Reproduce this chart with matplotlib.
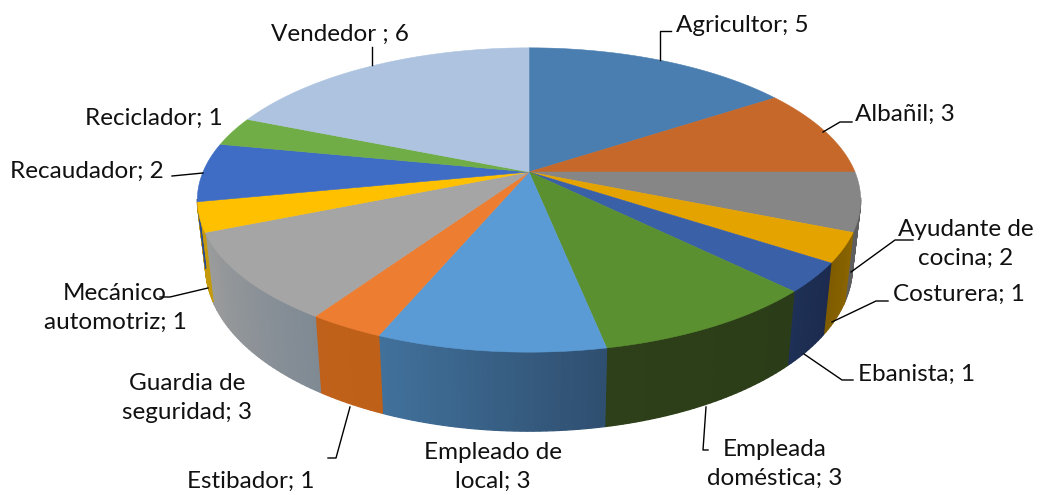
import numpy as np
import matplotlib
matplotlib.use("Agg")
import matplotlib.pyplot as plt
from matplotlib.colors import to_rgb
from matplotlib.patches import Polygon

# datos del grafico
oficios = ["Agricultor; 5", "Albañil; 3", "Ayudante de\ncocina; 2", "Costurera; 1", "Ebanista; 1",
           "Empleada\ndoméstica; 3", "Empleado de\nlocal; 3", "Estibador; 1", "Guardia de\nseguridad; 3",
           "Mecánico\nautomotriz; 1", "Recaudador; 2", "Reciclador; 1", "Vendedor ; 6"]
valores = [5, 3, 2, 1, 1, 3, 3, 1, 3, 1, 2, 1, 6]

# colores: cara superior, pared (izquierda, derecha)
color_top = ["#4a7eb0", "#c5682a", "#868686", "#e5a300", "#3a60a8", "#5b9030", "#5b9bd5",
             "#ed7d31", "#a5a5a5", "#ffc000", "#3f6cc4", "#70ad47", "#adc3e0"]
color_izq = ["#34587c", "#8a4a1e", "#5f5f5f", "#7f5c00", "#1f3056", "#2d4019", "#41719c",
             "#c0611b", "#9c9c9c", "#c49a0a", "#2f4d8a", "#4f7a32", "#7a8aa0"]
color_der = ["#34587c", "#8a4a1e", "#5a5a5a", "#8a6500", "#1b2a4e", "#2b3d18", "#2f4f6f",
             "#bf6018", "#7f8a94", "#c49a0a", "#2f4d8a", "#4f7a32", "#7a8aa0"]

# posicion de las etiquetas: x, y, alineacion
pos_texto = [(676, 26, "left"), (855, 114, "left"), (966, 244, "center"), (893, 294, "left"),
             (858, 374, "left"), (775, 464, "center"), (493, 467, "center"), (187, 481, "left"),
             (187, 398, "center"), (115, 308, "center"), (10, 171, "left"), (85, 118, "left"),
             (271, 34, "left")]
lineas = [[(660, 60), (660, 31), (671, 31)],
          [(823, 132), (840, 122), (852, 122)],
          [(851, 272), (895, 240), (913, 240)],
          [(832, 322), (876, 301), (888, 301)],
          [(804, 354), (842, 380), (853, 380)],
          [(706, 407), (703, 450), (708, 450)],
          None,
          [(350, 407), (336, 458), (328, 458)],
          None,
          [(208, 288), (170, 297), (160, 297)],
          [(203, 173), (172, 176)],
          None,
          [(372, 65), (372, 47)]]

# geometria de la torta (vista en perspectiva)
cx, cy = 529, 172
a, b, p = 326, 147, 0.184
alto = 64.5
enc = 0.975


def proyectar(ang, abajo=False):
    u = np.sin(ang)
    v = -np.cos(ang)
    w = 1 - p * v
    x = a * u / w
    y = cy + b * v / w
    if abajo:
        return cx + x * enc, y + alto / w
    return cx + x, y


fig = plt.figure(figsize=(10.4, 4.95), dpi=100)
ax = fig.add_axes([0, 0, 1, 1])
ax.set_xlim(0, 1040)
ax.set_ylim(495, 0)
ax.axis("off")

acum = np.cumsum([0] + valores) / sum(valores) * 2 * np.pi

# paredes: solo la parte frente al observador
for i in range(len(valores)):
    ini, fin = acum[i], acum[i + 1]
    n = max(int((fin - ini) * 60), 2)
    angs = np.linspace(ini, fin, n + 1)
    for j in range(n):
        if -np.cos(angs[j]) < p and -np.cos(angs[j + 1]) < p:
            continue
        # el angulo crece hacia la izquierda de la pantalla
        t = (j + 0.5) / n
        col = (1 - t) * np.array(to_rgb(color_der[i])) + t * np.array(to_rgb(color_izq[i]))
        pts = [proyectar(angs[j]), proyectar(angs[j + 1]),
               proyectar(angs[j + 1], True), proyectar(angs[j], True)]
        ax.add_patch(Polygon(pts, closed=True, facecolor=col, edgecolor=col, linewidth=0.9, zorder=1))

# cara superior
for i in range(len(valores)):
    angs = np.linspace(acum[i], acum[i + 1], 60)
    pts = [(cx, cy)] + [proyectar(t) for t in angs]
    ax.add_patch(Polygon(pts, closed=True, facecolor=color_top[i], edgecolor=color_top[i],
                         linewidth=0.4, zorder=2))

# lineas guia y etiquetas
for i in range(len(oficios)):
    if lineas[i] is not None:
        xs = [q[0] for q in lineas[i]]
        ys = [q[1] for q in lineas[i]]
        ax.plot(xs, ys, color="black", linewidth=1.0, zorder=3)
    x, y, al = pos_texto[i]
    ax.text(x, y, oficios[i], ha=al, va="center", fontsize=17.5, color="#111111",
            linespacing=1.5, family=["Lato", "DejaVu Sans"], zorder=4)

fig.savefig("out.png", dpi=100)
